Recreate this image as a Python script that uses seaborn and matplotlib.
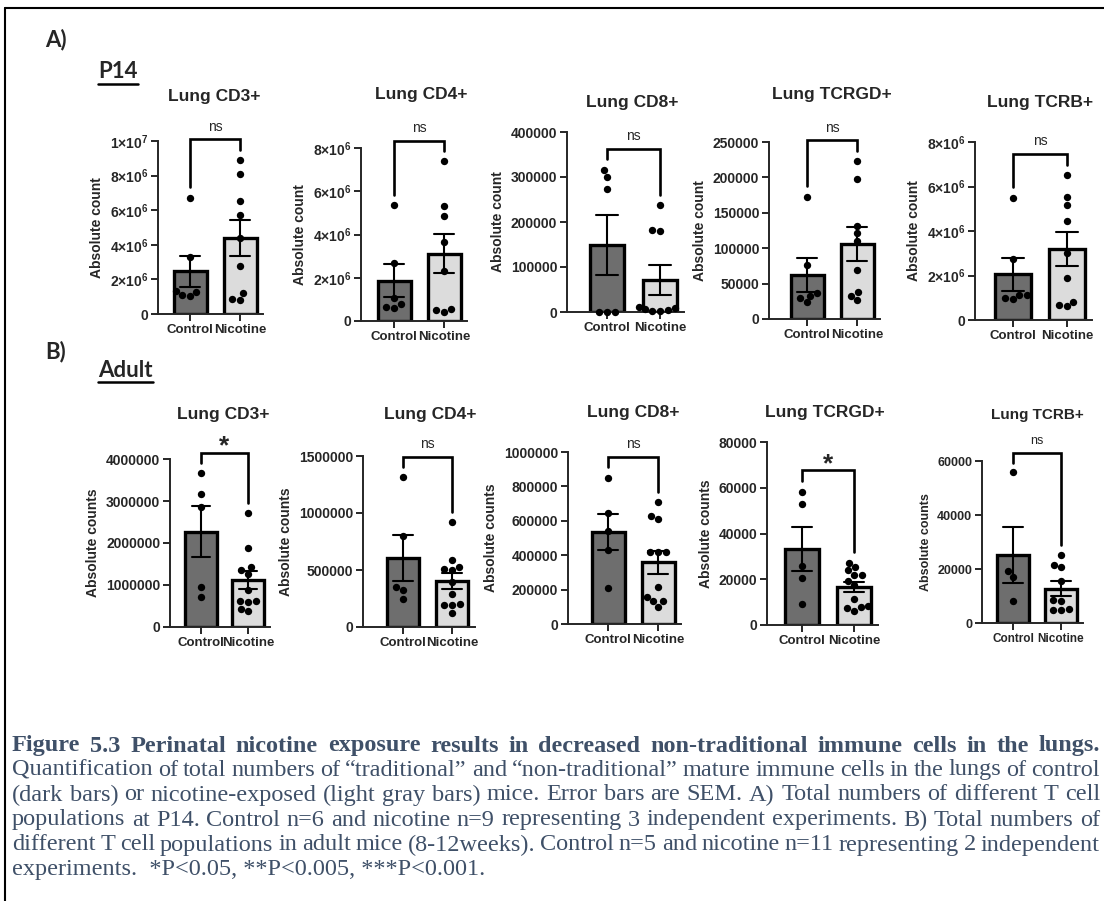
import matplotlib
matplotlib.use('Agg')
from matplotlib import pyplot as plt
from matplotlib.lines import Line2D
from matplotlib.ticker import FuncFormatter, MultipleLocator
import numpy as np
import pandas as pd
import seaborn as sns

# ---- data ----
groups = ['Control', 'Nicotine']
titles = ['Lung CD3+', 'Lung CD4+', 'Lung CD8+', 'Lung TCRGD+', 'Lung TCRB+']

p14_ctrl_cd3 = [6.72e6, 3.28e6, 1.35e6, 1.04e6, 1.29e6, 1.08e6]
p14_nic_cd3 = [8.9e6, 8.09e6, 6.55e6, 5.74e6, 4.37e6, 2.77e6, 1.19e6, 0.81e6, 0.89e6]
p14_ctrl_cd4 = [5.36e6, 2.68e6, 1.06e6, 0.80e6, 0.62e6, 0.65e6]
p14_nic_cd4 = [7.38e6, 5.30e6, 4.84e6, 3.65e6, 2.30e6, 0.43e6, 0.57e6, 0.50e6]
p14_ctrl_cd8 = [315000, 300000, 274000, 1000, 1000, 1000]
p14_nic_cd8 = [237000, 183000, 180000, 12000, 8000, 7000, 4000, 3000, 2000]
p14_ctrl_tcrgd = [173000, 76700, 36700, 33000, 29000, 23500]
p14_nic_tcrgd = [222700, 198000, 132000, 121500, 110600, 69700, 37700, 33000, 26800]
p14_ctrl_tcrb = [5.50e6, 2.74e6, 1.12e6, 0.93e6, 0.97e6, 1.12e6]
p14_nic_tcrb = [6.50e6, 5.53e6, 5.16e6, 4.45e6, 3.02e6, 1.91e6, 0.82e6, 0.63e6, 0.67e6]

adult_ctrl_cd3 = [3.66e6, 3.17e6, 2.86e6, 0.95e6, 0.72e6]
adult_nic_cd3 = [2.72e6, 1.89e6, 1.43e6, 1.35e6, 1.27e6, 0.89e6, 0.62e6, 0.62e6, 0.60e6, 0.38e6, 0.44e6]
adult_ctrl_cd4 = [1313000, 800000, 352000, 322000, 249000]
adult_nic_cd4 = [923000, 586000, 530000, 505000, 500000, 395000, 290000, 200000, 195000, 195000, 120000]
adult_ctrl_cd8 = [851000, 643000, 542000, 430000, 208000]
adult_nic_cd8 = [710000, 627000, 610000, 421000, 421000, 421000, 214000, 156000, 131000, 131000, 98000]
adult_ctrl_tcrgd = [58000, 53000, 25800, 20400, 9000]
adult_nic_tcrgd = [27300, 25500, 24000, 21900, 21900, 19400, 17500, 11200, 8300, 8000, 6300, 7300]
adult_ctrl_tcrb = [55800, 19300, 17200, 8300]
adult_nic_tcrb = [25300, 21600, 20600, 15400, 8300, 8400, 5300, 4700, 4900]

p14_ctrl = [p14_ctrl_cd3, p14_ctrl_cd4, p14_ctrl_cd8, p14_ctrl_tcrgd, p14_ctrl_tcrb]
p14_nic = [p14_nic_cd3, p14_nic_cd4, p14_nic_cd8, p14_nic_tcrgd, p14_nic_tcrb]
adult_ctrl = [adult_ctrl_cd3, adult_ctrl_cd4, adult_ctrl_cd8, adult_ctrl_tcrgd, adult_ctrl_tcrb]
adult_nic = [adult_nic_cd3, adult_nic_cd4, adult_nic_cd8, adult_nic_tcrgd, adult_nic_tcrb]

p14_ymax = [1e7, 8e6, 400000, 250000, 8e6]
p14_ystep = [2e6, 2e6, 100000, 50000, 2e6]
p14_sci = [True, True, False, False, True]
p14_sig = ['ns', 'ns', 'ns', 'ns', 'ns']
adult_ymax = [4e6, 1.5e6, 1e6, 80000, 60000]
adult_ystep = [1e6, 500000, 200000, 20000, 20000]
adult_sci = [False] * 5
adult_sig = ['*', 'ns', 'ns', '*', 'ns']

caption_lines = [
    'Figure 5.3 Perinatal nicotine exposure results in decreased non-traditional immune cells in the lungs.',
    'Quantification of total numbers of \u201ctraditional\u201d and \u201cnon-traditional\u201d mature immune cells in the lungs of control',
    '(dark bars) or nicotine-exposed (light gray bars) mice. Error bars are SEM. A) Total numbers of different T cell',
    'populations at P14. Control n=6 and nicotine n=9 representing 3 independent experiments. B) Total numbers of',
    'different T cell populations in adult mice (8-12weeks). Control n=5 and nicotine n=11 representing 2 independent',
    'experiments.  *P<0.05, **P<0.005, ***P<0.001.',
]

# ---- layout (pixels): y-axis x, control centre, nicotine centre, top, zero ----
W, H = 1104, 901
p14_px = [(158, 190, 240, 141, 314), (361, 394, 444, 148, 321), (567, 607, 660, 132, 312),
          (769, 807, 857, 142, 319), (975, 1013, 1067, 142, 320)]
adult_px = [(170, 201, 248, 459, 627), (363, 403, 452, 456, 627), (568, 608, 658, 452, 624),
            (767, 802, 854, 442, 625), (982, 1013, 1061, 461, 623)]
p14_title_xy = [(214, 97), (421, 95), (632, 102), (832, 95), (1040, 102)]
adult_title_xy = [(223, 415), (430, 415), (633, 413), (825, 413), (1037, 415)]

sns.set_style('ticks')
plt.rcParams['font.family'] = ['Liberation Sans', 'DejaVu Sans']
plt.rcParams['font.weight'] = 'bold'
plt.rcParams['axes.labelweight'] = 'bold'
plt.rcParams['mathtext.fontset'] = 'custom'
plt.rcParams['mathtext.rm'] = 'Liberation Sans:bold'
plt.rcParams['mathtext.bf'] = 'Liberation Sans:bold'

fig = plt.figure(figsize=(W / 100, H / 100), dpi=100, facecolor='white')


def sci_fmt(v, pos):
    if v <= 0:
        return '0'
    e = int(np.floor(np.log10(v) + 1e-9))
    m = v / 10 ** e
    return r'$\mathbf{%d{\times}10^{%d}}$' % (round(m), e)


def plain_fmt(v, pos):
    return '%d' % round(v)


def draw_panel(px, ctrl, nic, ymax, ystep, sci, sig, ylabel, small=False):
    yax, c0, c1, ytop, y0 = px
    s = c1 - c0
    xl = (yax - c0) / s
    xr = 1.46
    ax = fig.add_axes([yax / W, 1 - y0 / H, (xr - xl) * s / W, (y0 - ytop) / H])
    df = pd.DataFrame({'group': ['Control'] * len(ctrl) + ['Nicotine'] * len(nic),
                       'value': list(ctrl) + list(nic)})
    sns.barplot(data=df, x='group', y='value', hue='group', order=groups,
                palette={'Control': '#6E6E6E', 'Nicotine': '#DCDCDC'},
                errorbar='se', capsize=0.4, width=0.66, edgecolor='black', linewidth=2.4,
                err_kws={'color': 'black', 'linewidth': 1.5}, legend=False, ax=ax)
    sns.swarmplot(data=df, x='group', y='value', order=groups, color='black',
                  size=5.3, ax=ax)
    for c in ax.collections:
        c.set_clip_on(False)
    ax.set_xlim(xl, xr)
    ax.set_ylim(0, ymax)
    ax.yaxis.set_major_locator(MultipleLocator(ystep))
    ax.yaxis.set_major_formatter(FuncFormatter(sci_fmt if sci else plain_fmt))
    fs = 9 if small else 10
    ax.tick_params(axis='y', direction='out', length=5, width=1.4, labelsize=fs, pad=2)
    ax.tick_params(axis='x', direction='out', length=5, width=1.4, labelsize=fs - 0.5, pad=2)
    ax.set_xlabel('')
    ax.set_ylabel(ylabel, fontsize=fs, labelpad=4)
    for sp in ['top', 'right']:
        ax.spines[sp].set_visible(False)
    for sp in ['left', 'bottom']:
        ax.spines[sp].set_linewidth(1.4)
    # significance bracket
    top = max(max(ctrl), max(nic)) + 0.12 * ymax
    leg0 = max(ctrl) + 0.06 * ymax
    leg1 = max(nic) + 0.06 * ymax
    ax.plot([0, 0, 1, 1], [leg0, top, top, leg1], color='black', lw=1.9,
            clip_on=False, solid_joinstyle='miter')
    if sig == '*':
        ax.annotate(sig, (0.5, top), xytext=(0, -4), textcoords='offset points',
                    ha='center', va='bottom', fontsize=19, fontweight='bold',
                    annotation_clip=False)
    else:
        ax.annotate(sig, (0.5, top), xytext=(0, 4), textcoords='offset points',
                    ha='center', va='bottom', fontsize=fs, fontweight='normal',
                    annotation_clip=False)
    return ax


for i in range(5):
    draw_panel(p14_px[i], p14_ctrl[i], p14_nic[i], p14_ymax[i], p14_ystep[i],
               p14_sci[i], p14_sig[i], 'Absolute count')
    tx, ty = p14_title_xy[i]
    fig.text(tx / W, 1 - ty / H, titles[i], ha='center', va='center', fontsize=12.5)

for i in range(5):
    draw_panel(adult_px[i], adult_ctrl[i], adult_nic[i], adult_ymax[i], adult_ystep[i],
               adult_sci[i], adult_sig[i], 'Absolute counts', small=(i == 4))
    tx, ty = adult_title_xy[i]
    fig.text(tx / W, 1 - ty / H, titles[i], ha='center', va='center',
             fontsize=11 if i == 4 else 12.5)

# section labels
renderer = fig.canvas.get_renderer()
fig.text(45 / W, 1 - 40 / H, 'A)', fontsize=16, family='Lato', va='center', ha='left')
fig.text(45 / W, 1 - 352 / H, 'B)', fontsize=16, family='Lato', va='center', ha='left')
for txt, ty in [('P14', 72), ('Adult', 370)]:
    t = fig.text(98 / W, 1 - ty / H, txt, fontsize=16, family='Lato', va='center', ha='left')
    bb = t.get_window_extent(renderer)
    uy = bb.y0 - 1
    fig.add_artist(Line2D([bb.x0 / W, bb.x1 / W], [uy / H, uy / H], color='black', lw=1.8))

# frame lines
fig.add_artist(Line2D([5 / W, 1], [1 - 8 / H, 1 - 8 / H], color='black', lw=1.5))
fig.add_artist(Line2D([5 / W, 5 / W], [0, 1 - 8 / H], color='black', lw=1.5))

# caption, justified
cap_color = '#3F5068'
x0, x1 = 12, 1100
line_y = [746, 770, 795, 820, 845, 869]
for k, line in enumerate(caption_lines):
    kw = dict(fontsize=17.5, family='Liberation Serif', color=cap_color, va='center', ha='left',
              fontweight='bold' if k == 0 else 'normal')
    yy = 1 - line_y[k] / H
    if k == len(caption_lines) - 1:
        fig.text(x0 / W, yy, line, **kw)
        continue
    words = line.split(' ')
    objs = [fig.text(0, yy, w, **kw) for w in words]
    widths = [o.get_window_extent(renderer).width for o in objs]
    gap = (x1 - x0 - sum(widths)) / (len(words) - 1)
    x = x0
    for o, w in zip(objs, widths):
        o.set_x(x / W)
        x += w + gap

fig.savefig('out.png', dpi=100, facecolor='white')
